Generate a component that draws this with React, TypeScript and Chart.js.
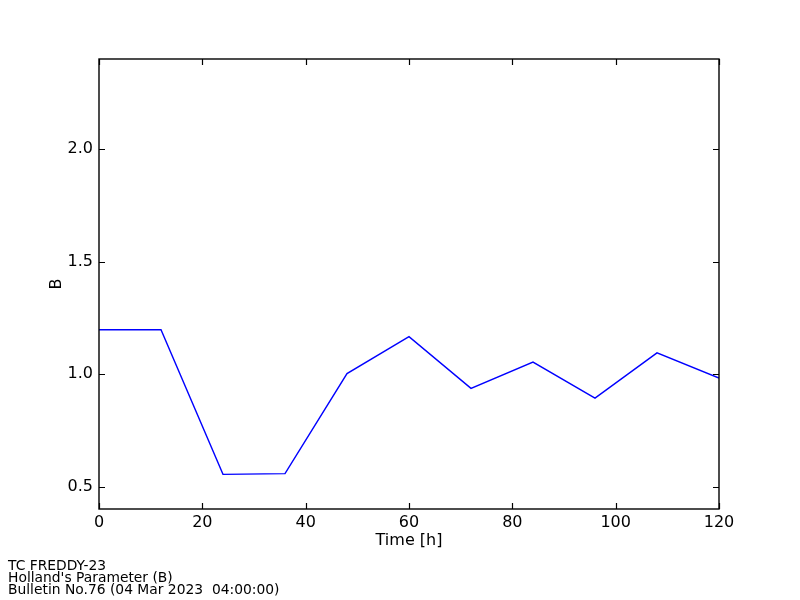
import React, { useEffect, useRef } from "react";
import { Chart, registerables } from "chart.js";

Chart.register(...registerables);

const HOURS = [0, 12, 24, 36, 48, 60, 72, 84, 96, 108, 120];
const B_VALUES = [1.197, 1.197, 0.554, 0.557, 1.002, 1.166, 0.936, 1.053, 0.893, 1.094, 0.982];
const X_TICKS = [0, 20, 40, 60, 80, 100, 120];
const Y_TICKS = [0.5, 1.0, 1.5, 2.0];
const FOOTER_LINES = [
  "TC FREDDY-23",
  "Holland's Parameter (B)",
  "Bulletin No.76 (04 Mar 2023  04:00:00)",
];

const FONT = "'DejaVu Sans', sans-serif";

const framePlugin = {
  id: "mplFrame",
  afterDraw(chart: any) {
    const { ctx, chartArea } = chart;
    const { left, right, top, bottom } = chartArea;
    const xs = chart.scales.x;
    const ys = chart.scales.y;
    const tl = 6;
    ctx.save();
    ctx.strokeStyle = "#000";
    ctx.lineWidth = 1.2;
    ctx.beginPath();
    X_TICKS.forEach((v) => {
      const px = Math.round(xs.getPixelForValue(v)) + 0.5;
      ctx.moveTo(px, bottom);
      ctx.lineTo(px, bottom - tl);
      ctx.moveTo(px, top);
      ctx.lineTo(px, top + tl);
    });
    Y_TICKS.forEach((v) => {
      const py = Math.round(ys.getPixelForValue(v)) + 0.5;
      ctx.moveTo(left, py);
      ctx.lineTo(left + tl, py);
      ctx.moveTo(right, py);
      ctx.lineTo(right - tl, py);
    });
    ctx.stroke();
    ctx.lineWidth = 1.4;
    ctx.strokeRect(left, top, right - left, bottom - top);

    ctx.fillStyle = "#000";
    ctx.font = `13.85px ${FONT}`;
    ctx.textAlign = "left";
    ctx.textBaseline = "alphabetic";
    FOOTER_LINES.forEach((line, i) => {
      ctx.fillText(line, 8, 570 + i * 11.8);
    });
    ctx.restore();
  },
};

export default function App() {
  const canvasRef = useRef<HTMLCanvasElement | null>(null);

  useEffect(() => {
    const canvas = canvasRef.current;
    if (!canvas) return;
    const chart = new Chart(canvas, {
      type: "line",
      data: {
        datasets: [
          {
            data: HOURS.map((h, i) => ({ x: h, y: B_VALUES[i] })),
            borderColor: "#0000ff",
            borderWidth: 1.4,
            pointRadius: 0,
            tension: 0,
            fill: false,
          },
        ],
      },
      options: {
        animation: false,
        responsive: false,
        devicePixelRatio: 1,
        layout: { padding: { top: 59, right: 81, left: 0, bottom: 0 } },
        plugins: {
          legend: { display: false },
          tooltip: { enabled: false },
        },
        scales: {
          x: {
            type: "linear",
            min: 0,
            max: 120,
            grid: { display: false, drawTicks: false },
            border: { display: false },
            afterFit(scale: any) {
              scale.height = 91;
            },
            afterBuildTicks(scale: any) {
              scale.ticks = X_TICKS.map((v) => ({ value: v }));
            },
            ticks: {
              padding: 4,
              maxRotation: 0,
              autoSkip: false,
              color: "#000",
              font: { family: FONT, size: 16 },
              callback: (v: any) => String(v),
            },
            title: {
              display: true,
              text: "Time [h]",
              color: "#000",
              font: { family: FONT, size: 16 },
              padding: { top: 0, bottom: 50 },
            },
          },
          y: {
            type: "linear",
            min: 0.4,
            max: 2.4,
            grid: { display: false, drawTicks: false },
            border: { display: false },
            afterFit(scale: any) {
              scale.width = 99;
            },
            afterBuildTicks(scale: any) {
              scale.ticks = Y_TICKS.map((v) => ({ value: v }));
            },
            ticks: {
              padding: 6,
              autoSkip: false,
              color: "#000",
              font: { family: FONT, size: 16 },
              callback: (v: any) => Number(v).toFixed(1),
            },
            title: {
              display: true,
              text: "B",
              color: "#000",
              font: { family: FONT, size: 16 },
              padding: { top: 47, bottom: 47 },
            },
          },
        },
      },
      plugins: [framePlugin],
    });
    return () => chart.destroy();
  }, []);

  return (
    <div style={{ position: "fixed", left: 0, top: 0, width: 800, height: 600, background: "#fff" }}>
      <canvas ref={canvasRef} width={800} height={600} style={{ display: "block" }} />
    </div>
  );
}
